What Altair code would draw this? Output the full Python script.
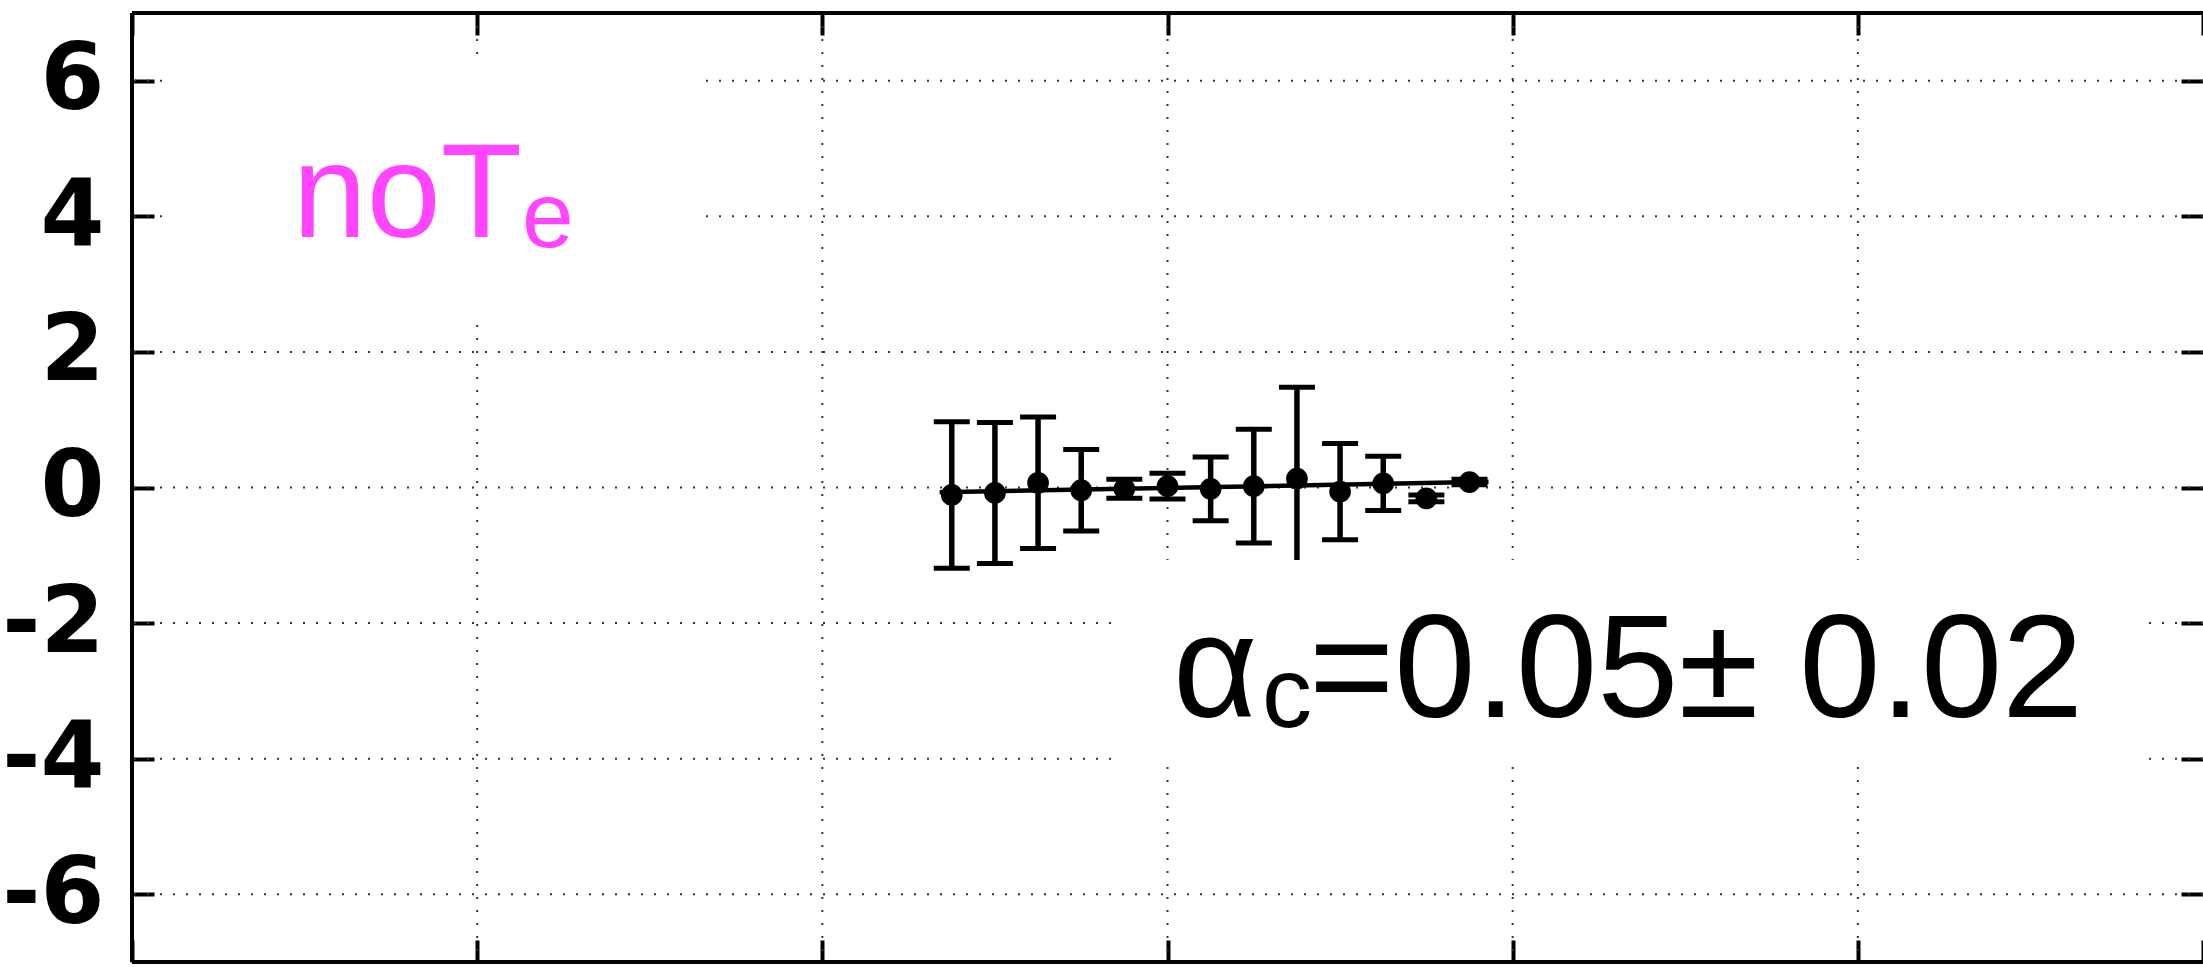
import altair as alt
import pandas as pd

# Measured residuals with their uncertainties
x_vals = [-0.625, -0.5, -0.375, -0.25, -0.125, 0.0, 0.125, 0.25, 0.375, 0.5, 0.625, 0.75, 0.875]
y_vals = [-0.11, -0.08, 0.07, -0.04, -0.02, 0.02, -0.02, 0.02, 0.13, -0.06, 0.06, -0.16, 0.08]
y_errs = [1.08, 1.04, 0.97, 0.60, 0.14, 0.19, 0.47, 0.84, 1.35, 0.71, 0.40, 0.05, 0.04]

# Straight-line fit through the points
fit_x = [-0.66, 0.93]
fit_y = [-0.07, 0.085]

# Axis tick positions
x_ticks = [-3, -2, -1, 0, 1, 2, 3]
y_ticks = [-6, -4, -2, 0, 2, 4, 6]

FONT = "Liberation Sans"
TICK_FONT = "DejaVu Sans"
MAGENTA = "#FF45FF"

pts = pd.DataFrame({
    "x": x_vals,
    "y": y_vals,
    "lo": [v - e for v, e in zip(y_vals, y_errs)],
    "hi": [v + e for v, e in zip(y_vals, y_errs)],
})
fit = pd.DataFrame({"x": fit_x, "y": fit_y})
xgrid = pd.DataFrame({"x": x_ticks[1:-1]})
ygrid = pd.DataFrame({"y": y_ticks})
one = alt.InlineData(values=[{}])

xs = alt.Scale(domain=[-3, 3], nice=False, zero=False)
ys = alt.Scale(domain=[-7, 7], nice=False, zero=False)

TICK = dict(offset=-22, tickSize=22, tickWidth=4, tickColor="black",
            domain=False, grid=False, title=None)

left_axis = alt.Axis(orient="left", values=y_ticks, labelFont=TICK_FONT, labelFontSize=92,
                     labelFontWeight="bold", labelColor="black", labelPadding=28,
                     labelExpr="'' + datum.value", **TICK)
bottom_axis = alt.Axis(orient="bottom", values=x_ticks, labels=False, **TICK)
right_axis = alt.Axis(orient="right", values=y_ticks, labels=False, **TICK)
top_axis = alt.Axis(orient="top", values=x_ticks, labels=False, **TICK)

dotted = dict(color="#333333", strokeWidth=2, strokeDash=[2, 11])

vgrid = alt.Chart(xgrid).mark_rule(**dotted).encode(
    x=alt.X("x:Q", scale=xs, axis=bottom_axis))
hgrid = alt.Chart(ygrid).mark_rule(**dotted).encode(
    y=alt.Y("y:Q", scale=ys, axis=left_axis))

# Vertical error bars and their end caps
stems = alt.Chart(pts).mark_rule(color="black", strokeWidth=5.5, opacity=1).encode(
    x=alt.X("x:Q", scale=xs, axis=bottom_axis),
    y=alt.Y("lo:Q", scale=ys, axis=left_axis),
    y2="hi:Q",
)
caps_lo = alt.Chart(pts).mark_tick(color="black", size=36, thickness=5,
                                   orient="horizontal", opacity=1).encode(
    x=alt.X("x:Q", scale=xs, axis=bottom_axis),
    y=alt.Y("lo:Q", scale=ys, axis=left_axis),
)
caps_hi = alt.Chart(pts).mark_tick(color="black", size=36, thickness=5,
                                   orient="horizontal", opacity=1).encode(
    x=alt.X("x:Q", scale=xs, axis=bottom_axis),
    y=alt.Y("hi:Q", scale=ys, axis=left_axis),
)
line = alt.Chart(fit).mark_line(color="black", strokeWidth=4.5).encode(
    x=alt.X("x:Q", scale=xs, axis=bottom_axis),
    y=alt.Y("y:Q", scale=ys, axis=left_axis),
)
dots = alt.Chart(pts).mark_circle(size=470, color="black", opacity=1).encode(
    x=alt.X("x:Q", scale=xs, axis=bottom_axis),
    y=alt.Y("y:Q", scale=ys, axis=left_axis),
)


def box(x1, x2, y1, y2):
    return alt.Chart(one).mark_rect(color="white").encode(
        x=alt.XDatum(x1, scale=xs, axis=bottom_axis), x2=alt.X2Datum(x2),
        y=alt.YDatum(y1, scale=ys, axis=left_axis), y2=alt.Y2Datum(y2),
    )


def label(txt, x, y, size, color="black"):
    return alt.Chart(one).mark_text(
        text=txt, font=FONT, fontSize=size, color=color,
        align="left", baseline="alphabetic",
    ).encode(
        x=alt.XDatum(x, scale=xs, axis=bottom_axis),
        y=alt.YDatum(y, scale=ys, axis=left_axis),
    )


# Frame: left, top and bottom edges
frame_l = alt.Chart(one).mark_rule(color="black", strokeWidth=4).encode(
    x=alt.XDatum(-3, scale=xs, axis=bottom_axis))
frame_t = alt.Chart(one).mark_rule(color="black", strokeWidth=4).encode(
    y=alt.YDatum(7, scale=ys, axis=left_axis))
frame_b = alt.Chart(one).mark_rule(color="black", strokeWidth=4).encode(
    y=alt.YDatum(-7, scale=ys, axis=left_axis))

main = alt.layer(
    vgrid, hgrid, stems, caps_lo, caps_hi, line, dots,
    box(-2.901, -1.360, 6.380, 2.471),
    box(-0.143, 2.832, -1.069, -4.123),
    label("noT", -2.534, 3.691, 133, MAGENTA),
    label("e", -1.870, 3.548, 93, MAGENTA),
    label("α", 0.016, -3.392, 146),
    label("c", 0.274, -3.532, 100),
    label("=0.05± 0.02", 0.410, -3.392, 146),
    frame_l, frame_t, frame_b,
)

# Mirrored ticks on the top and right edges
mirror = alt.Chart(pts).mark_point(opacity=0).encode(
    x=alt.X("x:Q", scale=xs, axis=top_axis),
    y=alt.Y("y:Q", scale=ys, axis=right_axis),
)

chart = alt.layer(main, mirror).resolve_scale(
    x="independent", y="independent"
).properties(
    width=2071, height=949,
    autosize=alt.AutoSizeParams(type="none"),
    padding={"left": 132, "top": 13, "right": 0, "bottom": 5},
    background="white",
).configure_view(stroke=None)

chart.save("out.html", embed_options={"renderer": "svg", "actions": False})
